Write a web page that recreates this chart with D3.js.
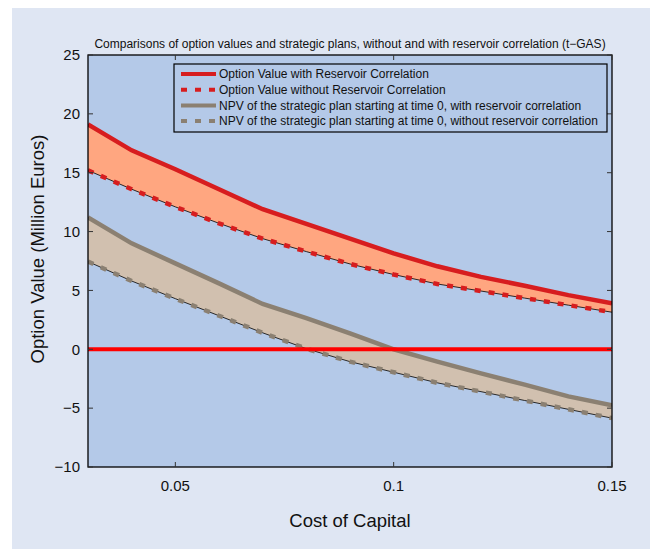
<!DOCTYPE html>
<html>
<head>
<meta charset="utf-8">
<script src="https://cdn.jsdelivr.net/npm/d3@7"></script>
<style>
  body { margin: 0; background: #fff; }
  text { font-family: "Liberation Sans", Arial, sans-serif; fill: #111; }
</style>
</head>
<body>
<div id="grafica"></div>
<script>
// cost of capital and the four curves (million euros)
var costOfCapital = [0.03, 0.04, 0.05, 0.06, 0.07, 0.08, 0.09, 0.10, 0.11, 0.12, 0.13, 0.14, 0.15];
var optionWithCorr = [19.1, 16.9, 15.3, 13.6, 11.9, 10.65, 9.4, 8.15, 7.05, 6.15, 5.4, 4.6, 3.9];
var optionWithoutCorr = [15.2, 13.6, 12.1, 10.7, 9.4, 8.3, 7.25, 6.35, 5.55, 4.95, 4.35, 3.75, 3.15];
var npvWithCorr = [11.2, 9.0, 7.3, 5.6, 3.85, 2.65, 1.35, 0.0, -1.05, -2.05, -3.0, -4.0, -4.75];
var npvWithoutCorr = [7.45, 5.8, 4.3, 2.85, 1.4, 0.05, -1.05, -1.95, -2.85, -3.6, -4.35, -5.1, -5.85];

var xTicks = [0.05, 0.1, 0.15];
var yTicks = [-10, -5, 0, 5, 10, 15, 20, 25];
var legendLabels = [
  "Option Value with Reservoir Correlation",
  "Option Value without Reservoir Correlation",
  "NPV of the strategic plan starting at time 0, with reservoir correlation",
  "NPV of the strategic plan starting at time 0, without reservoir correlation"
];
var title = "Comparisons of option values and strategic plans, without and with reservoir correlation (t\u2212GAS)";

var W = 650, H = 549;
var margin = {top: 55, right: 38, bottom: 82, left: 88},
    width = W - margin.left - margin.right,
    height = H - margin.top - margin.bottom;

var svg = d3.select("#grafica")
            .append("svg")
            .attr("width", W)
            .attr("height", H);

svg.append("rect")
  .attr("x", 12).attr("y", 8)
  .attr("width", W - 12).attr("height", H - 8)
  .attr("fill", "#dfe6f3");

var g = svg.append("g")
           .attr("transform", "translate(" + margin.left + "," + margin.top + ")");

var x = d3.scaleLinear().domain([0.03, 0.15]).range([0, width]);
var y = d3.scaleLinear().domain([-10, 25]).range([height, 0]);

g.append("rect")
  .attr("width", width).attr("height", height)
  .attr("fill", "#b4c9e8");

g.append("clipPath").attr("id", "clip")
  .append("rect").attr("width", width).attr("height", height);

var plot = g.append("g").attr("clip-path", "url(#clip)");

var rows = costOfCapital.map(function(c, i) {
  return {c: c, ow: optionWithCorr[i], on: optionWithoutCorr[i], nw: npvWithCorr[i], nn: npvWithoutCorr[i]};
});

function band(lo, hi) {
  return d3.area()
    .x(function(d) { return x(d.c); })
    .y0(function(d) { return y(d[lo]); })
    .y1(function(d) { return y(d[hi]); });
}
function line(key) {
  return d3.line()
    .x(function(d) { return x(d.c); })
    .y(function(d) { return y(d[key]); });
}

plot.append("path").datum(rows).attr("d", band("on", "ow")).attr("fill", "#ffa680");
plot.append("path").datum(rows).attr("d", band("nn", "nw")).attr("fill", "#d1c0af");

// thin black edges under the dashed curves
["on", "nn", "ow", "nw"].forEach(function(k) {
  plot.append("path").datum(rows).attr("d", line(k))
    .attr("fill", "none").attr("stroke", "#000").attr("stroke-width", 0.8);
});

var series = [
  {key: "ow", color: "#d71d1f", dash: null},
  {key: "on", color: "#d71d1f", dash: "6,8"},
  {key: "nw", color: "#8b8072", dash: null},
  {key: "nn", color: "#8b8072", dash: "6,8"}
];

series.forEach(function(s) {
  plot.append("path").datum(rows).attr("d", line(s.key))
    .attr("fill", "none")
    .attr("stroke", s.color)
    .attr("stroke-width", 4.5)
    .attr("stroke-dasharray", s.dash);
});

plot.append("line")
  .attr("x1", 0).attr("x2", width)
  .attr("y1", y(0)).attr("y2", y(0))
  .attr("stroke", "#ff0000").attr("stroke-width", 4);

// box and inward ticks
g.append("rect")
  .attr("width", width).attr("height", height)
  .attr("fill", "none").attr("stroke", "#000").attr("stroke-width", 1.3);

var tl = 5;
xTicks.forEach(function(t) {
  g.append("line").attr("x1", x(t)).attr("x2", x(t)).attr("y1", height).attr("y2", height - tl).attr("stroke", "#333");
  g.append("line").attr("x1", x(t)).attr("x2", x(t)).attr("y1", 0).attr("y2", tl).attr("stroke", "#333");
  g.append("text").attr("x", x(t)).attr("y", height + 24)
    .attr("text-anchor", "middle").style("font-size", "15px")
    .text(d3.format("")(t));
});
yTicks.forEach(function(t) {
  g.append("line").attr("x1", 0).attr("x2", tl).attr("y1", y(t)).attr("y2", y(t)).attr("stroke", "#333");
  g.append("line").attr("x1", width).attr("x2", width - tl).attr("y1", y(t)).attr("y2", y(t)).attr("stroke", "#333");
  g.append("text").attr("x", -8).attr("y", y(t)).attr("dy", "0.35em")
    .attr("text-anchor", "end").style("font-size", "15px")
    .text(d3.format("")(t));
});

g.append("text")
  .attr("x", width / 2).attr("y", -7)
  .attr("text-anchor", "middle").style("font-size", "12px")
  .text(title);

g.append("text")
  .attr("x", width / 2).attr("y", height + 60)
  .attr("text-anchor", "middle").style("font-size", "18.5px")
  .text("Cost of Capital");

svg.append("text")
  .attr("transform", "translate(44," + (margin.top + height / 2 - 12) + ")rotate(-90)")
  .attr("text-anchor", "middle").style("font-size", "18.5px")
  .text("Option Value (Million Euros)");

// legend
var lg = svg.append("g").attr("transform", "translate(174,64)");
lg.append("rect").attr("width", 433).attr("height", 68)
  .attr("fill", "#b4c9e8").attr("stroke", "#000").attr("stroke-width", 1.2);

series.forEach(function(s, i) {
  var yy = 10 + i * 15.7;
  lg.append("line").attr("x1", 7).attr("x2", 42).attr("y1", yy).attr("y2", yy)
    .attr("stroke", s.color).attr("stroke-width", 4)
    .attr("stroke-dasharray", s.dash);
  lg.append("text").attr("x", 45).attr("y", yy).attr("dy", "0.35em")
    .style("font-size", "12px")
    .text(legendLabels[i]);
});
</script>
</body>
</html>
